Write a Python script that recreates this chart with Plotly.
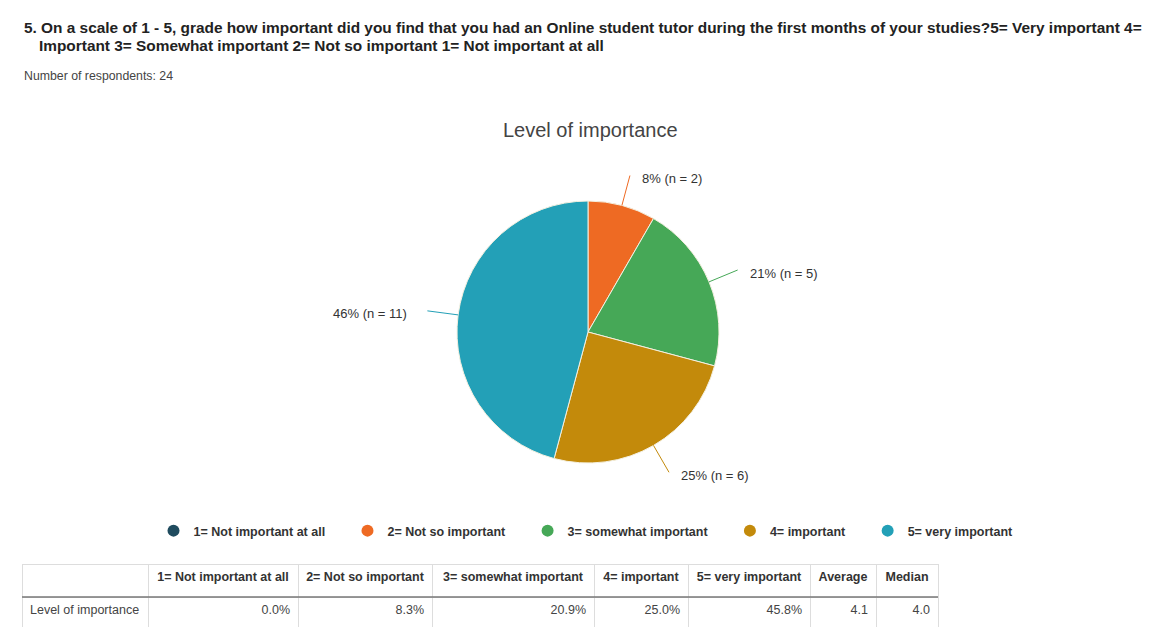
import math
import plotly.graph_objects as go

# Survey results
categories = ["1= Not important at all", "2= Not so important", "3= somewhat important",
              "4= important", "5= very important"]
counts = [0, 2, 5, 6, 11]
shares = ["0.0%", "8.3%", "20.9%", "25.0%", "45.8%"]
average = "4.1"
median = "4.0"
colors = ["#1f4b5e", "#ee6a23", "#46a857", "#c38a0b", "#23a0b7"]

question = ("5. On a scale of 1 - 5, grade how important did you find that you had an Online "
            "student tutor during the first months of your studies?5= Very important 4=")
question2 = "Important 3= Somewhat important 2= Not so important 1= Not important at all"
respondents = "Number of respondents: 24"
chart_title = "Level of importance"
row_label = "Level of importance"

W, H = 1173, 628
FONT = "Liberation Sans, Arial, sans-serif"
NBSP = "\u00a0"

# pie geometry in pixels
cx, cy, R = 588, 332, 131


def px(x):
    return x / W


def py(y):
    return 1 - y / H


def nowrap(s):
    # keep table labels on one line
    return s.replace(" ", NBSP)


fig = go.Figure()

fig.add_trace(go.Pie(
    values=counts, labels=categories, sort=False, direction="clockwise", rotation=0,
    marker=dict(colors=colors, line=dict(color="#f4f0e0", width=1)),
    textinfo="none", hoverinfo="label+value+percent", showlegend=False,
    domain=dict(x=[px(cx - R), px(cx + R)], y=[py(cy + R), py(cy - R)]),
))

# legend entries with round markers (trailing padding widens the gap between entries)
for name, col in zip(categories, colors):
    fig.add_trace(go.Scatter(x=[None], y=[None], mode="markers", name=name + NBSP * 5,
                             marker=dict(color=col, size=12, symbol="circle")))

# outside labels with leader lines
total = sum(counts)
cum = 0
for n, col in zip(counts, colors):
    if n == 0:
        cum += n
        continue
    mid = (cum + n / 2) / total * 2 * math.pi
    cum += n
    sx, sy = cx + R * math.sin(mid), cy - R * math.cos(mid)
    ex, ey = cx + (R + 31) * math.sin(mid), cy - (R + 31) * math.cos(mid)
    fig.add_shape(type="line", xref="paper", yref="paper",
                  x0=px(sx), y0=py(sy), x1=px(ex), y1=py(ey),
                  line=dict(color=col, width=1))
    right = math.sin(mid) >= 0
    pct = round(n / total * 100)
    fig.add_annotation(
        xref="paper", yref="paper", x=px(ex + (10 if right else -18)), y=py(ey + 3),
        text=f"{pct}% (n = {n})", showarrow=False,
        xanchor="left" if right else "right", yanchor="middle",
        font=dict(family=FONT, size=13, color="#333333"))

# header texts
fig.add_annotation(xref="paper", yref="paper", x=px(22), y=py(27), text=question,
                   showarrow=False, xanchor="left", yanchor="middle",
                   font=dict(family=FONT, size=15.4, color="#222222", weight="bold"))
fig.add_annotation(xref="paper", yref="paper", x=px(37), y=py(45), text=question2,
                   showarrow=False, xanchor="left", yanchor="middle",
                   font=dict(family=FONT, size=15.4, color="#222222", weight="bold"))
fig.add_annotation(xref="paper", yref="paper", x=px(22), y=py(76), text=respondents,
                   showarrow=False, xanchor="left", yanchor="middle",
                   font=dict(family=FONT, size=12.3, color="#444444"))
fig.add_annotation(xref="paper", yref="paper", x=px(590), y=py(130), text=chart_title,
                   showarrow=False, xanchor="center", yanchor="middle",
                   font=dict(family=FONT, size=20, color="#444444"))

# summary table
header = [""] + [nowrap(c) for c in categories] + ["Average", "Median"]
row = [[nowrap(row_label)]] + [[s] for s in shares] + [[average], [median]]
col_w = [126, 150, 134, 162, 94, 122, 66, 62]
fig.add_trace(go.Table(
    domain=dict(x=[px(22), px(22 + sum(col_w))], y=[0, py(564)]),
    columnwidth=col_w,
    header=dict(values=header, height=33, align="center", fill_color="white",
                line=dict(color="#dddddd", width=1),
                font=dict(family=FONT, size=12.5, color="#333333", weight="bold")),
    cells=dict(values=row, height=32, align=["left"] + ["right"] * 7, fill_color="white",
               line=dict(color="#dddddd", width=1),
               font=dict(family=FONT, size=12.5, color="#444444")),
))
fig.add_shape(type="line", xref="paper", yref="paper",
              x0=px(22), x1=px(22 + sum(col_w)), y0=py(597), y1=py(597),
              line=dict(color="#777777", width=1.5))

fig.update_layout(
    width=W, height=H, margin=dict(l=0, r=0, t=0, b=0),
    paper_bgcolor="white", plot_bgcolor="white",
    xaxis=dict(visible=False), yaxis=dict(visible=False),
    legend=dict(orientation="h", x=0.5 + 8 / W, xanchor="center", y=py(531), yanchor="middle",
                font=dict(family=FONT, size=12.5, color="#333333", weight="bold"),
                itemwidth=30),
)

fig.write_html("out.html")
